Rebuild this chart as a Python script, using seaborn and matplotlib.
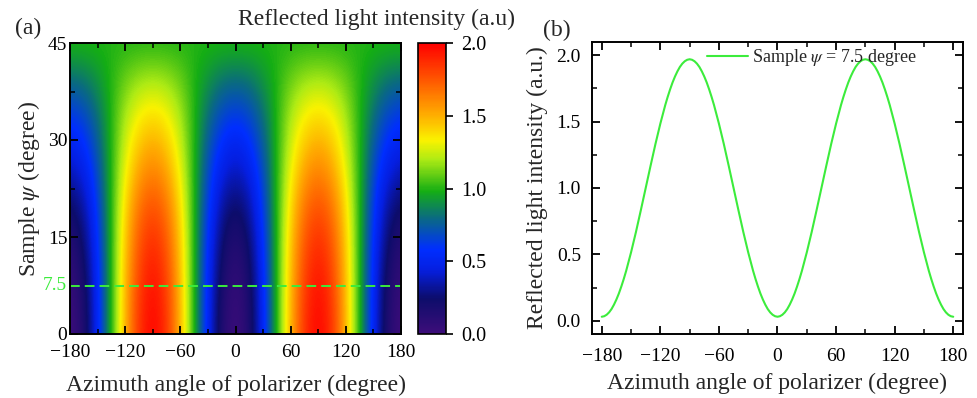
import numpy as np
import pandas as pd
import matplotlib
matplotlib.use("Agg")
import matplotlib.pyplot as plt
import matplotlib.transforms as mtransforms
from matplotlib.colors import LinearSegmentedColormap
from matplotlib.ticker import MultipleLocator
import seaborn as sns

# ---------------- data ----------------
# (a) map: azimuth angle (columns) x sample psi (rows)
azimuth_grid = [-180, -165, -150, -135, -120, -105, -90, -75, -60, -45, -30, -15, 0,
                15, 30, 45, 60, 75, 90, 105, 120, 135, 150, 165, 180]
psi_grid = [0, 5, 10, 15, 20, 25, 30, 35, 40, 45]
row_psi0 = [0.00,0.13,0.50,1.00,1.50,1.87,2.00,1.87,1.50,1.00,0.50,0.13,0.00,0.13,0.50,1.00,1.50,1.87,2.00,1.87,1.50,1.00,0.50,0.13,0.00]
row_psi5 = [0.02,0.15,0.51,1.00,1.49,1.85,1.98,1.85,1.49,1.00,0.51,0.15,0.02,0.15,0.51,1.00,1.49,1.85,1.98,1.85,1.49,1.00,0.51,0.15,0.02]
row_psi10 = [0.06,0.19,0.53,1.00,1.47,1.81,1.94,1.81,1.47,1.00,0.53,0.19,0.06,0.19,0.53,1.00,1.47,1.81,1.94,1.81,1.47,1.00,0.53,0.19,0.06]
row_psi15 = [0.13,0.25,0.57,1.00,1.44,1.75,1.87,1.75,1.44,1.00,0.57,0.25,0.13,0.25,0.57,1.00,1.44,1.75,1.87,1.75,1.44,1.00,0.57,0.25,0.13]
row_psi20 = [0.23,0.33,0.62,1.00,1.39,1.67,1.77,1.67,1.39,1.00,0.62,0.33,0.23,0.33,0.62,1.00,1.39,1.67,1.77,1.67,1.39,1.00,0.62,0.33,0.23]
row_psi25 = [0.36,0.45,0.68,1.00,1.32,1.55,1.64,1.55,1.32,1.00,0.68,0.45,0.36,0.45,0.68,1.00,1.32,1.55,1.64,1.55,1.32,1.00,0.68,0.45,0.36]
row_psi30 = [0.50,0.57,0.75,1.00,1.25,1.43,1.50,1.43,1.25,1.00,0.75,0.57,0.50,0.57,0.75,1.00,1.25,1.43,1.50,1.43,1.25,1.00,0.75,0.57,0.50]
row_psi35 = [0.65,0.70,0.83,1.00,1.18,1.30,1.35,1.30,1.18,1.00,0.83,0.70,0.65,0.70,0.83,1.00,1.18,1.30,1.35,1.30,1.18,1.00,0.83,0.70,0.65]
row_psi40 = [0.83,0.85,0.92,1.00,1.09,1.15,1.17,1.15,1.09,1.00,0.92,0.85,0.83,0.85,0.92,1.00,1.09,1.15,1.17,1.15,1.09,1.00,0.92,0.85,0.83]
row_psi45 = [1.00,1.00,1.00,1.00,1.00,1.00,1.00,1.00,1.00,1.00,1.00,1.00,1.00,1.00,1.00,1.00,1.00,1.00,1.00,1.00,1.00,1.00,1.00,1.00,1.00]

# (b) line cut at psi = 7.5 degree, azimuth -180 .. 180 every 2.5 degree
azimuth_line = list(np.arange(-180.0, 180.01, 2.5))
intensity_line = [
    0.030,0.034,0.045,0.063,0.088,0.121,0.160,0.205,0.257,0.314,0.376,0.444,0.515,0.590,0.668,0.749,0.832,0.915,
    1.000,1.085,1.168,1.251,1.332,1.410,1.485,1.556,1.624,1.686,1.743,1.795,1.840,1.879,1.912,1.937,1.955,1.966,1.970,
    1.966,1.955,1.937,1.912,1.879,1.840,1.795,1.743,1.686,1.624,1.556,1.485,1.410,1.332,1.251,1.168,1.085,
    1.000,0.915,0.832,0.749,0.668,0.590,0.515,0.444,0.376,0.314,0.257,0.205,0.160,0.121,0.088,0.063,0.045,0.034,0.030,
    0.034,0.045,0.063,0.088,0.121,0.160,0.205,0.257,0.314,0.376,0.444,0.515,0.590,0.668,0.749,0.832,0.915,
    1.000,1.085,1.168,1.251,1.332,1.410,1.485,1.556,1.624,1.686,1.743,1.795,1.840,1.879,1.912,1.937,1.955,1.966,1.970,
    1.966,1.955,1.937,1.912,1.879,1.840,1.795,1.743,1.686,1.624,1.556,1.485,1.410,1.332,1.251,1.168,1.085,
    1.000,0.915,0.832,0.749,0.668,0.590,0.515,0.444,0.376,0.314,0.257,0.205,0.160,0.121,0.088,0.063,0.045,0.034,0.030,
]
cut_psi = 7.5

x_ticks = [-180, -120, -60, 0, 60, 120, 180]
cbar_ticks = [0.0, 0.5, 1.0, 1.5, 2.0]

# ---------------- style ----------------
sns.set_theme(style="ticks")
plt.rcParams["font.family"] = ["Liberation Serif", "DejaVu Serif"]
plt.rcParams["mathtext.fontset"] = "stix"
plt.rcParams.update({
    "xtick.direction": "in", "ytick.direction": "in",
    "xtick.top": True, "ytick.right": True,
    "xtick.major.size": 6, "ytick.major.size": 6,
    "xtick.minor.size": 3.5, "ytick.minor.size": 3.5,
    "xtick.major.width": 1.3, "ytick.major.width": 1.3,
    "xtick.minor.width": 1.1, "ytick.minor.width": 1.1,
    "axes.linewidth": 1.4,
    "axes.edgecolor": "black",
    "xtick.color": "black", "ytick.color": "black",
    "xtick.labelsize": 14, "ytick.labelsize": 14,
    "axes.labelsize": 17,
})

LIME = "#3cec3c"

cmap = LinearSegmentedColormap.from_list("origin_rainbow", [
    (0.00, (0.24, 0.05, 0.48)),
    (0.12, (0.05, 0.05, 0.42)),
    (0.22, (0.02, 0.12, 0.88)),
    (0.29, (0.00, 0.18, 1.00)),
    (0.40, (0.04, 0.42, 0.50)),
    (0.49, (0.08, 0.68, 0.08)),
    (0.60, (0.68, 0.92, 0.08)),
    (0.665, (0.98, 0.95, 0.00)),
    (0.76, (1.00, 0.66, 0.00)),
    (0.86, (1.00, 0.38, 0.00)),
    (1.00, (1.00, 0.00, 0.00)),
])

fig = plt.figure(figsize=(9.78, 3.98), dpi=100)
W, H = 978, 398
def rect(x0, y0, x1, y1):
    return [x0 / W, 1 - y1 / H, (x1 - x0) / W, (y1 - y0) / H]

ax_a = fig.add_axes(rect(70, 43, 401, 334))
cax = fig.add_axes(rect(418, 43, 446, 334))
ax_b = fig.add_axes(rect(592, 42, 963, 334))

# ---------------- (a) map ----------------
grid = np.array([row_psi0, row_psi5, row_psi10, row_psi15, row_psi20,
                 row_psi25, row_psi30, row_psi35, row_psi40, row_psi45])
dx = azimuth_grid[1] - azimuth_grid[0]
dy = psi_grid[1] - psi_grid[0]
im = ax_a.imshow(grid, origin="lower", aspect="auto", cmap=cmap, vmin=0, vmax=2,
                 interpolation="bicubic", interpolation_stage="data",
                 extent=[azimuth_grid[0] - dx / 2, azimuth_grid[-1] + dx / 2,
                         psi_grid[0] - dy / 2, psi_grid[-1] + dy / 2])
ax_a.set_xlim(-180, 180)
ax_a.set_ylim(0, 45)
ax_a.axhline(cut_psi, color=LIME, ls=(0, (5, 2.6)), lw=1.4)
ax_a.set_xticks(x_ticks)
ax_a.xaxis.set_minor_locator(MultipleLocator(30))
ax_a.set_yticks([0, 15, 30, 45])
ax_a.yaxis.set_minor_locator(MultipleLocator(7.5))
ax_a.tick_params(which="both", top=True, right=True, direction="in")
ax_a.tick_params(axis="x", which="major", pad=7)
ax_a.tick_params(axis="y", which="major", pad=2)
trans = mtransforms.blended_transform_factory(ax_a.transAxes, ax_a.transData)
ax_a.text(-0.01, cut_psi, "7.5", transform=trans, ha="right", va="center",
          color=LIME, fontsize=14)
ax_a.set_xlabel("Azimuth angle of polarizer (degree)", labelpad=10)
ax_a.set_ylabel(r"Sample $\psi$ (degree)", labelpad=4)

cb = fig.colorbar(im, cax=cax)
cb.set_ticks(cbar_ticks)
cb.set_ticklabels([f"{t:.1f}" for t in cbar_ticks])
cb.ax.minorticks_off()
cb.ax.tick_params(direction="out", right=True, left=False, length=5, width=1.2,
                  labelsize=14.5, pad=6)
cb.outline.set_linewidth(1.2)

fig.text(377 / W, 1 - 19 / H, "Reflected light intensity (a.u)", ha="center", va="center", fontsize=17)
fig.text(28 / W, 1 - 28 / H, "(a)", ha="center", va="center", fontsize=17)
fig.text(557 / W, 1 - 30 / H, "(b)", ha="center", va="center", fontsize=17)

# ---------------- (b) line ----------------
df = pd.DataFrame({"azimuth": azimuth_line, "intensity": intensity_line})
sns.lineplot(data=df, x="azimuth", y="intensity", ax=ax_b, color=LIME, lw=1.5,
             label=r"Sample $\psi$ = 7.5 degree")
ax_b.set_xlim(-190, 190)
ax_b.set_ylim(-0.1, 2.1)
ax_b.set_xticks(x_ticks)
ax_b.xaxis.set_minor_locator(MultipleLocator(30))
ax_b.set_yticks([0.0, 0.5, 1.0, 1.5, 2.0])
ax_b.set_yticklabels(["0.0", "0.5", "1.0", "1.5", "2.0"])
ax_b.yaxis.set_minor_locator(MultipleLocator(0.25))
ax_b.tick_params(which="both", top=True, right=True, direction="in")
ax_b.tick_params(axis="x", which="major", pad=10)
ax_b.tick_params(axis="y", which="major", pad=8)
ax_b.set_xlabel("Azimuth angle of polarizer (degree)", labelpad=6)
ax_b.set_ylabel("Reflected light intensity (a.u.)", labelpad=6)
leg = ax_b.legend(loc="upper left", bbox_to_anchor=(0.30, 0.995), frameon=False,
                  fontsize=13, handlelength=2.3, handletextpad=0.2,
                  borderaxespad=0, borderpad=0.2)

fig.savefig("out.png", dpi=100)
